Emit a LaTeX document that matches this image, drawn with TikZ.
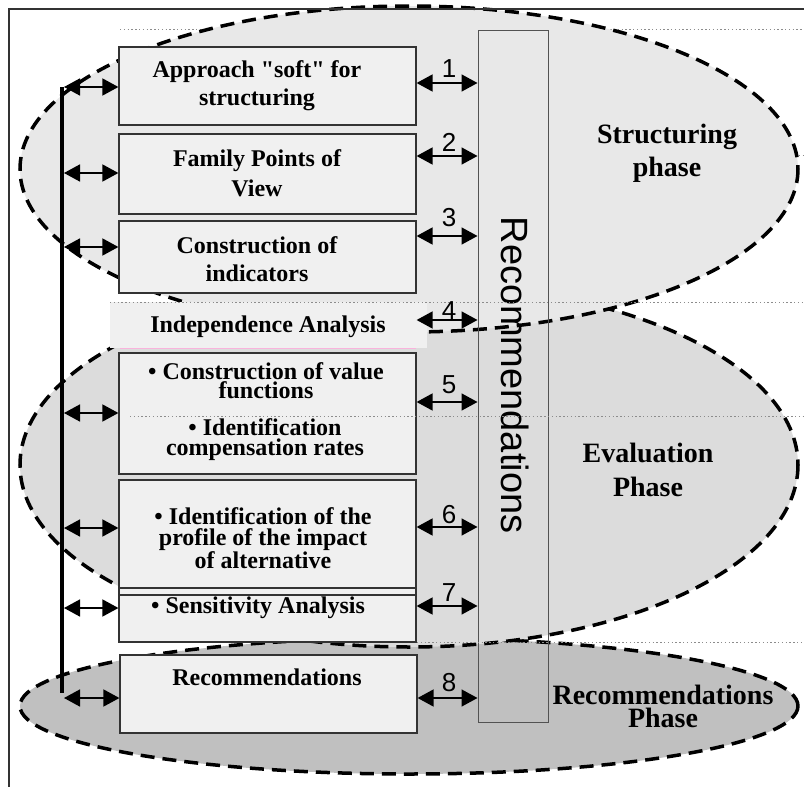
\documentclass[tikz,border=0pt]{standalone}
\usepackage{fontspec}
\setmainfont{Liberation Serif}[Ligatures=TeXOff]
\newfontfamily\arialf{Liberation Sans}
\usetikzlibrary{arrows.meta}
\definecolor{boxfill}{HTML}{F0F0F0}
\definecolor{boxline}{HTML}{333333}
\definecolor{strfill}{HTML}{E8E8E8}
\definecolor{evafill}{HTML}{DCDCDC}
\definecolor{recfill}{HTML}{C0C0C0}
\definecolor{guide}{HTML}{8C8C8C}
\tikzset{
  phasezone/.style={draw=black, line width=3.5pt, dash pattern=on 14pt off 8pt},
  stepbox/.style={draw=boxline, fill=boxfill, line width=1.2pt, inner sep=0pt},
  guideline/.style={draw=guide, line width=0.9pt, dash pattern=on 1.4pt off 2.4pt},
  dbl/.style={line width=1.6pt, {Triangle[length=16pt,width=17pt]}-{Triangle[length=16pt,width=17pt]}},
  boxtext/.style={font=\bfseries, align=center, inner sep=0pt},
  phasetext/.style={font=\bfseries, align=center, inner sep=0pt},
  numtext/.style={font=\arialf\fontsize{26}{28}\selectfont, inner sep=0pt},
}
\begin{document}
\begin{tikzpicture}[x=1pt,y=-1pt]
\useasboundingbox (0,0) rectangle (804,787);

% dotted guides lying behind the phase zones
\draw[guideline] (120,29) -- (804,29);
\draw[guideline] (400,155) -- (804,155);

% phase zones
\filldraw[phasezone, fill=recfill] (409,706) ellipse [x radius=389, y radius=68];
\filldraw[phasezone, fill=evafill] (409,465) ellipse [x radius=389, y radius=182];
\filldraw[phasezone, fill=strfill] (409,169) ellipse [x radius=389, y radius=163];

% frame
\draw[boxline, line width=1.2pt] (804,9) -- (9,9) -- (9,787);

% tall recommendations column
\node[draw=boxline!85, line width=1pt, minimum width=70pt, minimum height=692pt, inner sep=0pt] (rec) at (513,376) {};
\node[rotate=-90, font=\arialf\fontsize{38}{40}\selectfont, inner sep=0pt] (rectxt) at (515,375) {Recommendations};

% step boxes
\node[stepbox, minimum width=297pt, minimum height=78pt] (b1) at (267.5,86) {};
\node[stepbox, minimum width=297pt, minimum height=80pt] (b2) at (267.5,174) {};
\node[stepbox, minimum width=297pt, minimum height=72pt] (b3) at (267.5,257) {};
\node[fill=boxfill, minimum width=317pt, minimum height=46pt, inner sep=0pt] (b4) at (268.5,325) {};
\draw[magenta!30, line width=0.9pt] (120,348) -- (416,348);
\node[stepbox, minimum width=297pt, minimum height=121pt] (b5) at (267.5,413.5) {};
\node[stepbox, minimum width=297pt, minimum height=108pt] (b6) at (267.5,534) {};
\node[stepbox, minimum width=297pt, minimum height=54pt] (b7) at (267.5,615) {};
\draw[boxline, line width=1.2pt] (b7.west |- 0,595) -- (b7.east |- 0,595);
\node[stepbox, minimum width=297pt, minimum height=78pt] (b8) at (268.5,694) {};

% dotted guides drawn over the zones
\draw[guideline] (110,302) -- (804,302);
\draw[guideline] (130,416) -- (804,416);
\draw[guideline] (417,642) -- (804,642);

% box texts
\node[boxtext, font=\bfseries\fontsize{24}{28}\selectfont] (t1) at (257,86) {Approach "soft" for\\structuring};
\node[boxtext, font=\bfseries\fontsize{24}{30}\selectfont] (t2) at (257,173) {Family Points of\\View};
\node[boxtext, font=\bfseries\fontsize{24}{28}\selectfont] (t3) at (257,259) {Construction of\\indicators};
\node[boxtext, font=\bfseries\fontsize{24}{28}\selectfont] (t4) at (268,327) {Independence Analysis};
\node[boxtext, font=\bfseries\fontsize{24}{19}\selectfont] (t5a) at (266,381) {• Construction of value\\functions};
\node[boxtext, font=\bfseries\fontsize{24}{20}\selectfont] (t5b) at (265,440) {• Identification\\compensation rates};
\node[boxtext, font=\bfseries\fontsize{24}{20.5}\selectfont] (t6) at (263,538) {• Identification of the\\profile of the impact\\of alternative};
\node[boxtext, font=\bfseries\fontsize{24}{28}\selectfont] (t7) at (258,608) {• Sensitivity Analysis};
\node[boxtext, font=\bfseries\fontsize{24}{28}\selectfont] (t8) at (267,677) {Recommendations};

% phase labels
\node[phasetext, font=\bfseries\fontsize{28}{33}\selectfont] (p1) at (667,153) {Structuring\\phase};
\node[phasetext, font=\bfseries\fontsize{28}{34}\selectfont] (p2) at (648,470) {Evaluation\\Phase};
\node[phasetext, font=\bfseries\fontsize{28}{23}\selectfont] (p3) at (663,706) {Recommendations\\Phase};

% row levels of the right-hand connectors
\coordinate (r1) at (0,83);
\coordinate (r2) at (0,156);
\coordinate (r3) at (0,236);
\coordinate (r4) at (0,320);
\coordinate (r5) at (0,402);
\coordinate (r6) at (0,527);
\coordinate (r7) at (0,606);
\coordinate (r8) at (0,698);

\draw[dbl] (b1.east |- r1) -- (rec.west |- r1);
\draw[dbl] (b2.east |- r2) -- (rec.west |- r2);
\draw[dbl] (b3.east |- r3) -- (rec.west |- r3);
\draw[dbl] (b3.east |- r4) -- (rec.west |- r4);
\draw[dbl] (b5.east |- r5) -- (rec.west |- r5);
\draw[dbl] (b6.east |- r6) -- (rec.west |- r6);
\draw[dbl] (b7.east |- r7) -- (rec.west |- r7);
\draw[dbl] (b8.east |- r8) -- (rec.west |- r8);

\node[numtext] (n1) at (449,69) {1};
\node[numtext] (n2) at (449,142) {2};
\node[numtext] (n3) at (449,218) {3};
\node[numtext] (n4) at (449,311) {4};
\node[numtext] (n5) at (449,385) {5};
\node[numtext] (n6) at (449,515) {6};
\node[numtext] (n7) at (449,593) {7};
\node[numtext] (n8) at (449,683) {8};

% feedback spine on the left
\coordinate (spinetop) at (62,87);
\coordinate (spinebot) at (62,693);
\draw[line width=4pt] (spinetop) -- (spinebot);

\coordinate (l1) at (64,87);
\coordinate (l2) at (64,173);
\coordinate (l3) at (64,247);
\coordinate (l5) at (64,413);
\coordinate (l6) at (64,528);
\coordinate (l7) at (64,608);
\coordinate (l8) at (64,698);
\draw[dbl] (l1) -- (b1.west |- l1);
\draw[dbl] (l2) -- (b2.west |- l2);
\draw[dbl] (l3) -- (b3.west |- l3);
\draw[dbl] (l5) -- (b5.west |- l5);
\draw[dbl] (l6) -- (b6.west |- l6);
\draw[dbl] (l7) -- (b7.west |- l7);
\draw[dbl] (l8) -- (b8.west |- l8);
\end{tikzpicture}
\end{document}
